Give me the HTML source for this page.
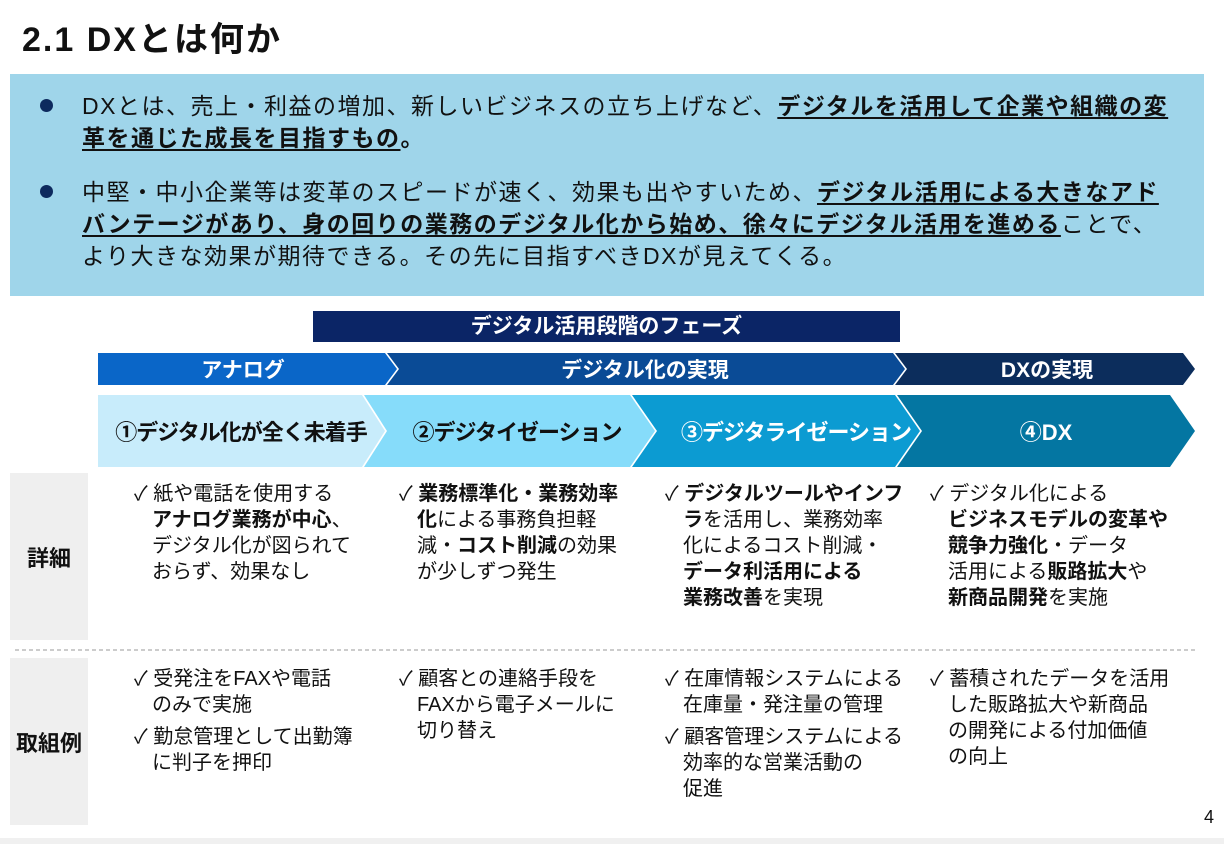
<!DOCTYPE html>
<html><head><meta charset="utf-8"><style>
*{margin:0;padding:0;box-sizing:border-box}
body{width:1224px;height:844px;background:#fff;position:relative;overflow:hidden;font-family:"Liberation Sans","Noto Sans CJK JP",sans-serif;color:#111}
.a{position:absolute}
h1{position:absolute;left:22px;top:12px;font-size:34px;font-weight:bold;color:#111;letter-spacing:2px}
.blue{left:10px;top:74px;width:1194px;height:222px;background:#9fd5ea}
.bl{position:absolute;left:82px;font-size:23px;line-height:32px;white-space:nowrap;letter-spacing:1.5px}
.dot{position:absolute;left:40px;width:13px;height:13px;border-radius:50%;background:#0d2a5e}
u{text-decoration:underline;text-underline-offset:3px}
.col{position:absolute;font-size:20px;line-height:26px;white-space:nowrap;letter-spacing:0}
.col p{padding-left:18px;text-indent:-18px;margin-bottom:6px}
.lab{position:absolute;left:10px;width:78px;background:#efefef;font-size:22px;font-weight:bold;display:flex;align-items:center;justify-content:center}
</style></head><body>
<h1>2.1 DXとは何か</h1>
<div class="a blue"></div>
<div class="dot" style="top:99px"></div>
<div class="bl" style="top:90px">DXとは、売上・利益の増加、新しいビジネスの立ち上げなど、<b><u>デジタルを活用して企業や組織の変</u></b><br><b><u>革を通じた成長を目指すもの</u>。</b></div>
<div class="dot" style="top:185px"></div>
<div class="bl" style="top:176px">中堅・中小企業等は変革のスピードが速く、効果も出やすいため、<b><u>デジタル活用による大きなアド</u></b><br><b><u>バンテージがあり、身の回りの業務のデジタル化から始め、徐々にデジタル活用を進める</u></b>ことで、<br>より大きな効果が期待できる。その先に目指すべきDXが見えてくる。</div>
<div class="a" style="left:313px;top:311px;width:587px;height:31px;background:#0b2566;color:#fff;font-weight:bold;font-size:21px;text-align:center;line-height:31px">デジタル活用段階のフェーズ</div>
<svg class="a" style="left:0;top:0" width="1224" height="844">
<polygon points="98,353 385,353 397,369 385,385 98,385" fill="#0a66c8"/>
<polygon points="387,353 893,353 905,369 893,385 387,385 399,369" fill="#0a4b96"/>
<polygon points="895,353 1183,353 1195,369 1183,385 895,385 907,369" fill="#0c2d5c"/>
<polygon points="98,395 362,395 385,431 362,467 98,467" fill="#c8ecfb"/>
<polygon points="364,395 630,395 655,431 630,467 364,467 387,431" fill="#86dcfa"/>
<polygon points="632,395 895,395 920,431 895,467 632,467 657,431" fill="#0c9bd2"/>
<polygon points="897,395 1170,395 1195,431 1170,467 897,467 922,431" fill="#0476a2"/>
<g fill="#fff" font-weight="bold" font-size="21" text-anchor="middle" font-family="Liberation Sans,Noto Sans CJK JP,sans-serif">
<text x="243" y="377">アナログ</text><text x="645" y="377">デジタル化の実現</text><text x="1047" y="377">DXの実現</text>
<text x="796" y="440" font-size="22" letter-spacing="-1">③デジタライゼーション</text><text x="1046" y="440" font-size="22">④DX</text>
</g>
<g fill="#111" font-weight="bold" font-size="22" text-anchor="middle" font-family="Liberation Sans,Noto Sans CJK JP,sans-serif" letter-spacing="-1">
<text x="241" y="440">①デジタル化が全く未着手</text><text x="517" y="440">②デジタイゼーション</text>
</g>
<line x1="15" y1="650" x2="1195" y2="650" stroke="#999" stroke-dasharray="4,3"/>
<rect x="0" y="838" width="1224" height="6" fill="#f0f0f0"/>
</svg>
<div class="lab" style="top:473px;height:167px">詳細</div>
<div class="lab" style="top:658px;height:167px">取組例</div>
<div class="col" style="left:134px;top:481px"><p>✓ 紙や電話を使用する<br><b>アナログ業務が中心</b>、<br>デジタル化が図られて<br>おらず、効果なし</p></div>
<div class="col" style="left:399px;top:481px"><p>✓ <b>業務標準化・業務効率</b><br><b>化</b>による事務負担軽<br>減・<b>コスト削減</b>の効果<br>が少しずつ発生</p></div>
<div class="col" style="left:665px;top:481px"><p>✓ <b>デジタルツールやインフ</b><br><b>ラ</b>を活用し、業務効率<br>化によるコスト削減・<br><b>データ利活用による</b><br><b>業務改善</b>を実現</p></div>
<div class="col" style="left:930px;top:481px"><p>✓ デジタル化による<br><b>ビジネスモデルの変革や</b><br><b>競争力強化</b>・データ<br>活用による<b>販路拡大</b>や<br><b>新商品開発</b>を実施</p></div>
<div class="col" style="left:134px;top:666px"><p>✓ 受発注をFAXや電話<br>のみで実施</p><p>✓ 勤怠管理として出勤簿<br>に判子を押印</p></div>
<div class="col" style="left:399px;top:666px"><p>✓ 顧客との連絡手段を<br>FAXから電子メールに<br>切り替え</p></div>
<div class="col" style="left:665px;top:666px"><p>✓ 在庫情報システムによる<br>在庫量・発注量の管理</p><p>✓ 顧客管理システムによる<br>効率的な営業活動の<br>促進</p></div>
<div class="col" style="left:930px;top:666px"><p>✓ 蓄積されたデータを活用<br>した販路拡大や新商品<br>の開発による付加価値<br>の向上</p></div>
<div class="a" style="left:1204px;top:807px;font-size:18px">4</div>
</body></html>
